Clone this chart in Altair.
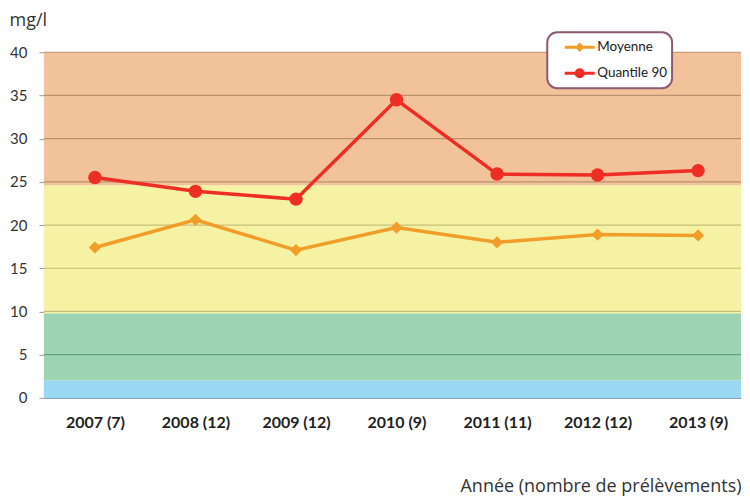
import altair as alt
import pandas as pd

# ---- data ----
years = ["2007 (7)", "2008 (12)", "2009 (12)", "2010 (9)", "2011 (11)", "2012 (12)", "2013 (9)"]
moyenne = [17.4, 20.6, 17.1, 19.7, 18.0, 18.9, 18.8]
quantile90 = [25.5, 23.9, 23.0, 34.5, 25.9, 25.8, 26.3]
series_names = ["Moyenne", "Quantile 90"]
series_colors = ["#F09D2A", "#EE2D24"]

band_names = ["bleu", "vert", "jaune", "orange"]
band_lo = [0, 2, 9.8, 24.6]
band_hi = [2, 9.8, 24.6, 40]
band_colors = ["#98D8F2", "#9ED4B3", "#F6F2A4", "#F2C39A"]

y_ticks = [0, 5, 10, 15, 20, 25, 30, 35, 40]
grid_values = [5, 10, 15, 20, 25, 30, 35, 40]

legend_paths = [
    "M-1,0L1,0M-0.17,0L0,-0.17L0.17,0L0,0.17Z",
    "M-1,0L1,0M0.24,0A0.24,0.24 0 1,1 -0.24,0A0.24,0.24 0 1,1 0.24,0Z",
]

W, H = 698, 346

rows = []
for name, vals in zip(series_names, [moyenne, quantile90]):
    for yr, v in zip(years, vals):
        rows.append({"annee": yr, "serie": name, "valeur": v})
df = pd.DataFrame(rows)

bands = pd.DataFrame({"band": band_names, "lo": band_lo, "hi": band_hi})
grid = pd.DataFrame({"v": grid_values})

yscale = alt.Scale(domain=[0, 40], nice=False, zero=True)
xscale = alt.Scale(type="point", domain=years, padding=0.467, align=0.543)

y_axis = alt.Axis(
    values=y_ticks, grid=False, title="mg/l", titleAngle=0, titleAlign="left",
    titleBaseline="alphabetic", titleX=-35, titleY=-27, titleFont="Open Sans",
    titleFontSize=18, titleFontWeight="normal", titleColor="#333333",
    labelFont="Lato", labelFontSize=15, labelColor="#333333", labelPadding=12,
    tickSize=5, tickColor="#9a9a9a", domainColor="#a0a0a0", domainWidth=1,
)
x_axis = alt.Axis(
    title="Année (nombre de prélèvements)", titleAnchor="end", titleAlign="right",
    titleBaseline="alphabetic", titleY=94, titleFont="Open Sans", titleFontSize=18,
    titleFontWeight="normal", titleColor="#333333",
    labelFont="Lato", labelFontSize=16, labelFontWeight="bold", labelColor="#222222",
    labelPadding=17, ticks=False, tickSize=0, grid=False, domainColor="#7fa3bb",
    domainWidth=1.5, labelAngle=0,
)

band_layer = alt.Chart(bands).mark_rect().encode(
    y=alt.Y("lo:Q", scale=yscale, axis=y_axis),
    y2="hi:Q",
    color=alt.Color("band:N", scale=alt.Scale(domain=band_names, range=band_colors), legend=None),
)

grid_layer = alt.Chart(grid).mark_rule(strokeWidth=1.2).encode(
    y=alt.Y("v:Q", scale=yscale),
    color=alt.when(alt.datum.v > 24.6).then(alt.value("#b8916e"))
    .when(alt.datum.v > 9.8).then(alt.value("#c6bf7c"))
    .otherwise(alt.value("#5fa67c")),
)

base = alt.Chart(df).encode(
    x=alt.X("annee:N", scale=xscale, axis=x_axis, sort=years),
    y=alt.Y("valeur:Q", scale=yscale),
)
color_enc = alt.Color("serie:N", scale=alt.Scale(domain=series_names, range=series_colors), legend=None)

lines = base.mark_line(strokeWidth=3.5).encode(color=color_enc)
points = base.mark_point(filled=True, opacity=1).encode(
    color=color_enc,
    shape=alt.when(alt.datum.serie == "Moyenne").then(alt.value("diamond")).otherwise(alt.value("circle")),
    size=alt.when(alt.datum.serie == "Moyenne").then(alt.value(150)).otherwise(alt.value(180)),
)

leg = alt.Legend(
    title=None, orient="none", legendX=504, legendY=-20, padding=4, rowPadding=4,
    clipHeight=22, symbolSize=900, symbolStrokeWidth=3, symbolOffset=12, labelOffset=1,
    labelFont="Lato", labelFontSize=13.5, labelColor="#222222", fillColor="white",
    strokeColor="#8B5A74", cornerRadius=10, symbolOpacity=1,
    labelExpr="datum.label + '\u00a0\u00a0\u00a0'",
)
carrier = alt.Chart(df).transform_filter("false").mark_point(filled=True, opacity=1).encode(
    x=alt.X("annee:N", scale=xscale),
    y=alt.Y("valeur:Q", scale=yscale),
    fill=alt.Fill("serie:N", scale=alt.Scale(domain=series_names, range=series_colors), legend=leg),
    stroke=alt.Stroke("serie:N", scale=alt.Scale(domain=series_names, range=series_colors), legend=leg),
    shape=alt.Shape("serie:N", scale=alt.Scale(domain=series_names, range=legend_paths), legend=leg),
)

chart = (
    alt.layer(band_layer, grid_layer, lines, points, carrier)
    .resolve_scale(color="independent")
    .properties(width=W, height=H, padding={"left": 1, "top": 3, "right": 0, "bottom": 0},
                background="white")
    .configure_view(stroke=None)
    .configure_legend(strokeWidth=2)
)

chart.save("out.html", embed_options={"renderer": "svg", "actions": False})
